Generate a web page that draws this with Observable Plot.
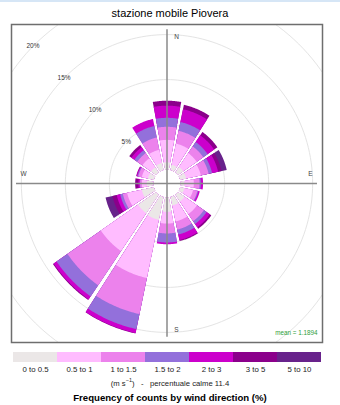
<!DOCTYPE html>
<html><head><meta charset="utf-8">
<script src="https://cdn.jsdelivr.net/npm/d3@7"></script>
<script src="https://cdn.jsdelivr.net/npm/@observablehq/plot@0.6"></script>
<style>
body{margin:0;background:#fff;font-family:"Liberation Sans",Arial,sans-serif;}
#wrap{width:340px;height:405px;overflow:hidden;border-top:2px solid #d6e6f6;box-sizing:border-box;}
#title{height:18px;padding-top:4px;box-sizing:border-box;line-height:14px;font-size:11px;text-align:center;color:#000;}
#units{height:15px;line-height:15px;font-size:7.7px;text-align:center;color:#222;}
#units sup{font-size:5.5px;vertical-align:4px;line-height:0;}
#caption{height:14px;line-height:14px;font-size:9.6px;font-weight:bold;text-align:center;color:#000;}
svg{display:block;}
</style></head>
<body><div id="wrap">
<div id="title">stazione mobile Piovera</div>
<div id="main"></div>
<div id="legend"></div>
<div id="units"></div>
<div id="caption"></div>
</div>
<script>
// ---------- data ----------
const directions = ["N","NNE","NE","ENE","E","ESE","SE","SSE","S","SSW","SW","WSW","W","WNW","NW","NNW"];
const directionAngles = [0,22.5,45,67.5,90,112.5,135,157.5,180,202.5,225,247.5,270,292.5,315,337.5];
const speedBands = ["0 to 0.5","0.5 to 1","1 to 1.5","1.5 to 2","2 to 3","3 to 5","5 to 10"];
const bandColors = ["#ebe7e7","#ffbcff","#ec82ec","#9370db","#cc00cc","#8b008b","#68228b"];
// frequency (%) of each speed band per direction
const freq0to05  = [0.8,0.6,0.75,0.7,0.4,0.5,0.93,0.97,1.6,2.6,2.5,1.4,0.74,0.7,0.7,0.8];
const freq05to1  = [2.5,2.4,1.85,1.7,1.1,1.0,1.7,1.81,1.3,6.6,5.1,1.7,0.56,0.7,1.2,1.5];
const freq1to15  = [1.45,1.45,0.9,0.9,0.65,0.5,0.95,0.92,1.1,4.1,4.6,0.5,0.2,0.4,0.7,1.4];
const freq15to2  = [1.0,1.0,0.6,0.4,0.15,0.1,0.38,0.56,1.0,1.7,1.5,0.3,0.05,0.1,0.4,1.3];
const freq2to3   = [1.35,1.45,0.9,0.7,0.25,0.17,0.44,0.63,0.2,0.45,0.4,0.4,0.15,0.1,0.4,0.8];
const freq3to5   = [0.55,0.5,0.45,0.4,0,0,0.2,0.11,0,0.05,0.1,0.5,0.37,0.05,0.3,0];
const freq5to10  = [0,0,0,0.6,0,0,0,0,0,0,0,0.8,0,0,0,0];
const gridLevels = [5,10,15,20];
const compassLabels = ["N","E","S","W"];
const compassAngles = [0,90,180,270];
const meanText = "mean = 1.1894";
const calmText = "percentuale calme 11.4";
const captionText = "Frequency of counts by wind direction (%)";

// ---------- geometry helpers ----------
const bandSeries = [freq0to05,freq05to1,freq1to15,freq15to2,freq2to3,freq3to5,freq5to10];
const HOLE = 1.55;      // centre hole, in % units
const LIM = 17.67;      // half-extent of the panel, % units
const AXIS = 17.1;      // length of the cross lines
const PXU = 8.9;        // approx px per % unit
const rad = Math.PI/180;
function halfAngle(R){
  return 11.25 - 0.57 - Math.asin(Math.min(1, 0.8/(R*PXU)))/rad;
}
const wedges = [];
directions.forEach((d,i)=>{
  const th = directionAngles[i];
  const cum = [];
  let c = 0;
  bandSeries.forEach(arr=>{ c += arr[i]; cum.push(c); });
  for(let j=bandSeries.length-1;j>=0;j--){
    if(!(bandSeries[j][i]>0)) continue;
    const r1 = HOLE + cum[j], r0 = HOLE;
    const id = d+"-"+j, band = speedBands[j];
    const a1 = halfAngle(r1), a0 = halfAngle(r0);
    const n = 30;
    for(let k=0;k<=n;k++){
      const t = (th - a1 + 2*a1*k/n)*rad;
      wedges.push({id, band, x: r1*Math.sin(t), y: r1*Math.cos(t)});
    }
    for(let k=0;k<=n;k++){
      const t = (th + a0 - 2*a0*k/n)*rad;
      wedges.push({id, band, x: r0*Math.sin(t), y: r0*Math.cos(t)});
    }
  }
});
const circles = [];
gridLevels.forEach(p=>{
  for(let k=0;k<=360;k+=2){
    circles.push({level:p, x:(HOLE+p)*Math.sin(k*rad), y:(HOLE+p)*Math.cos(k*rad)});
  }
});
const compass = compassLabels.map((l,i)=>({label:l, a:compassAngles[i]*rad}));
const CR = 16.3;

const main = Plot.plot({
  width: 340, height: 328,
  marginTop: 4, marginBottom: 6, marginLeft: 11, marginRight: 18,
  x: {domain: [-LIM, LIM], axis: null},
  y: {domain: [-LIM, LIM], axis: null},
  color: {domain: speedBands, range: bandColors},
  style: {fontFamily: '"Liberation Sans", Arial, sans-serif', background: "#fff"},
  marks: [
    Plot.line(circles, {x:"x", y:"y", z:"level", stroke:"#e4e4e4", strokeWidth:1, clip:true}),
    Plot.line(wedges, {x:"x", y:"y", z:"id", fill:"band", stroke:"none"}),
    Plot.ruleY([0], {x1:-AXIS, x2:AXIS, stroke:"#8a8a8a", strokeWidth:1.5}),
    Plot.ruleX([0], {y1:-AXIS, y2:AXIS, stroke:"#8a8a8a", strokeWidth:1.5}),
    Plot.text(gridLevels, {x: p=>-(HOLE+p)*Math.SQRT1_2, y: p=>(HOLE+p)*Math.SQRT1_2, text: p=>p+"%", fontSize:6.5, fill:"#333"}),
    Plot.text(compass.filter(c=>c.label==="N"||c.label==="S"), {x: c=>CR*Math.sin(c.a), y: c=>CR*Math.cos(c.a), text:"label", dx:9.5, fontSize:6.5, fill:"#444"}),
    Plot.text(compass.filter(c=>c.label==="E"||c.label==="W"), {x: c=>CR*Math.sin(c.a), y: c=>CR*Math.cos(c.a), text:"label", dy:-10, fontSize:6.5, fill:"#444"}),
    Plot.text([meanText], {frameAnchor:"bottom-right", text: d=>d, dx:-5, dy:-8, fontSize:6.3, fill:"#2e9e3a"}),
    Plot.frame({stroke:"#6e6e6e", strokeWidth:1.5})
  ]
});
document.getElementById("main").appendChild(main);

const legend = Plot.plot({
  width: 340, height: 28,
  marginTop: 4, marginBottom: 14, marginLeft: 11, marginRight: 18,
  x: {type:"band", domain: speedBands, padding: 0, tickSize: 0, tickPadding: 4, label: null},
  color: {domain: speedBands, range: bandColors},
  style: {fontFamily: '"Liberation Sans", Arial, sans-serif', fontSize: "7.8px", color:"#222", background:"#fff"},
  marks: [
    Plot.cell(speedBands, {x: d=>d, fill: d=>d})
  ]
});
document.getElementById("legend").appendChild(legend);

document.getElementById("units").innerHTML = "(m s<sup>\u22121</sup>)&nbsp;&nbsp;&nbsp;-&nbsp;&nbsp;&nbsp;" + calmText;
document.getElementById("caption").textContent = captionText;
</script>
</body></html>
